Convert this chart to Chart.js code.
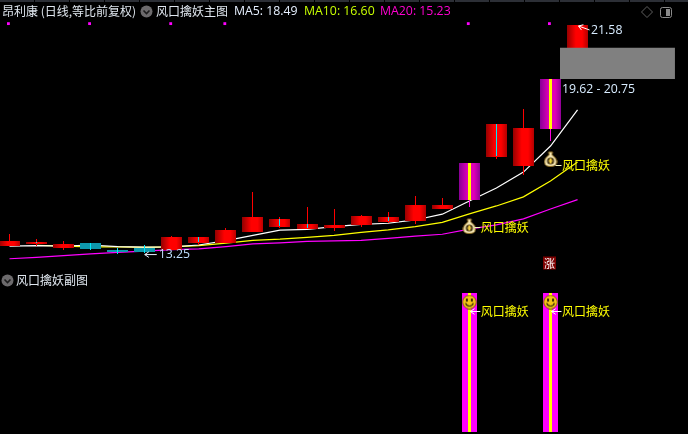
<!DOCTYPE html>
<html lang="zh">
<head>
<meta charset="utf-8">
<title>昂利康 日线</title>
<script src="https://cdn.jsdelivr.net/npm/chart.js"></script>
<style>
    html, body { margin: 0; padding: 0; background: #000; }
    #wrap { position: relative; width: 688px; height: 434px; overflow: hidden; background: #000; }
    #kline { position: absolute; left: 0; top: 0; }
    #topbar { position: absolute; left: 0; top: 0; width: 688px; height: 2px;
        background: repeating-linear-gradient(90deg, #2c2f36 0 34px, #000 34px 35px); }
    .t { position: absolute; white-space: nowrap; font: 12px/16px "Noto Sans CJK SC", "Noto Sans", sans-serif; color: #dfe6ee; }
    .m { font: 12.3px/16px "Open Sans", "Noto Sans", sans-serif; }
    .icon { position: absolute; }
</style>
</head>
<body>
<div id="wrap">
    <canvas id="kline" width="688" height="434"></canvas>
    <div id="topbar"></div>
    <span class="t" style="left:2px;top:3px">昂利康 (日线,等比前复权)</span>
    <svg class="icon" style="left:140px;top:5px" width="13" height="13"><circle cx="6.5" cy="6.5" r="6" fill="#6c6a6c"/><path d="M3.5 5.5 L6.5 8.5 L9.5 5.5" stroke="#1c1c1c" stroke-width="1.6" fill="none"/></svg>
    <span class="t" style="left:156px;top:3px">风口擒妖主图</span>
    <span class="t m" style="left:234px;top:3px;color:#e6f0ff">MA5: 18.49</span>
    <span class="t m" style="left:304px;top:3px;color:#c8ff00">MA10: 16.60</span>
    <span class="t m" style="left:380px;top:3px;color:#ff00d0">MA20: 15.23</span>
    <svg class="icon" style="left:640px;top:5px" width="36" height="16"><path d="M7 1.5 L12.5 7 L7 12.5 L1.5 7 Z" stroke="#5f5f5f" fill="none"/><rect x="20.5" y="2.5" width="11" height="10" rx="2" stroke="#8a8a8a" fill="none"/><rect x="26" y="4" width="4" height="7" fill="#8a8a8a"/></svg>
    <svg class="icon" style="left:1px;top:274px" width="13" height="13"><circle cx="6.5" cy="6.5" r="6" fill="#6c6a6c"/><path d="M3.5 5.5 L6.5 8.5 L9.5 5.5" stroke="#1c1c1c" stroke-width="1.6" fill="none"/></svg>
    <span class="t" style="left:16px;top:272px">风口擒妖副图</span>
</div>
<script>
// 日线数据
const categories = [0, 1, 2, 3, 4, 5, 6, 7, 8, 9, 10, 11, 12, 13, 14, 15, 16, 17, 18, 19, 20, 21];
const openPrices = [13.54, 13.62, 13.47, 13.65, 13.40, 13.47, 13.40, 13.65, 13.65, 14.05, 14.23, 14.16, 14.20, 14.31, 14.42, 14.45, 14.89, 15.22, 16.78, 16.45, 17.80, 20.71];
const closePrices = [13.73, 13.69, 13.62, 13.43, 13.33, 13.33, 13.87, 13.87, 14.13, 14.60, 14.53, 14.34, 14.31, 14.63, 14.60, 15.03, 15.03, 16.56, 17.98, 17.83, 19.62, 21.58];
const highPrices = [13.98, 13.80, 13.73, 13.65, 13.47, 13.58, 13.91, 13.87, 14.20, 15.51, 14.60, 14.96, 14.89, 14.67, 14.78, 15.36, 15.29, 16.56, 17.98, 18.53, 19.62, 21.58];
const lowPrices = [13.54, 13.54, 13.40, 13.40, 13.25, 13.29, 13.40, 13.58, 13.65, 14.05, 14.20, 14.16, 14.09, 14.23, 14.38, 14.34, 14.89, 14.96, 16.71, 16.13, 17.36, 20.71];
const ma5 = [13.54, 13.56, 13.54, 13.58, 13.52, 13.50, 13.51, 13.58, 13.74, 13.93, 14.12, 14.15, 14.25, 14.33, 14.37, 14.49, 14.70, 15.18, 15.65, 16.23, 17.18, 18.49];
const ma10 = [null, 13.57, 13.54, 13.51, 13.51, 13.49, 13.51, 13.56, 13.65, 13.75, 13.79, 13.86, 13.93, 14.04, 14.13, 14.25, 14.40, 14.71, 15.00, 15.33, 15.91, 16.60];
const ma20 = [13.08, 13.13, 13.19, 13.26, 13.31, 13.36, 13.41, 13.44, 13.52, 13.62, 13.66, 13.71, 13.73, 13.75, 13.82, 13.90, 13.97, 14.16, 14.31, 14.53, 14.89, 15.23];

// K线中间的青色细线 [下, 上]
const cyanIndex = [1, 3, 4, 5, 7, 10, 11, 14, 18];
const cyanLow = [13.65, 13.40, 13.25, 13.29, 13.69, 14.27, 14.20, 14.45, 16.82];
const cyanHigh = [13.69, 13.65, 13.47, 13.58, 13.87, 14.53, 14.34, 14.60, 17.98];

// 风口擒妖信号
const signalIndex = [17, 20];
const signalBagPrice = [14.27, 16.71];
const signalTextPrice = [14.23, 16.49];
const subBarValue = [1, 1];
const subSmileValue = [0.935, 0.935];
const subTextValue = [0.87, 0.87];
const dotIndex = [0, 3, 6, 8, 17, 20];
const dotPrice = 21.63;
const riseBadgePrice = 12.91;

// 缺口区间
const gapLow = 19.62;
const gapHigh = 20.75;
const gapStart = 20.35;
const gapEnd = 24.60;

const lowestIndex = 5;
const lowestPrice = 13.25;
const highestIndex = 21;
const highestPrice = 21.58;

const pts = (arr) => categories.map(i => ({ x: i, y: arr[i] }));

// 渐变实体
function bodyGradient(context, stops) {
    const chart = context.chart;
    if (!context.raw || !chart.scales.x) return stops[1];
    const cx = chart.scales.x.getPixelForValue(context.raw.x);
    if (!isFinite(cx)) return stops[1];
    const g = chart.ctx.createLinearGradient(cx - 10.5, 0, cx + 10.5, 0);
    g.addColorStop(0, stops[0]);
    g.addColorStop(0.42, stops[1]);
    g.addColorStop(0.72, stops[1]);
    g.addColorStop(1, stops[2]);
    return g;
}

function bodyColor(context) {
    if (!context.raw) return '#ff0000';
    const i = context.raw.x;
    if (signalIndex.includes(i)) return bodyGradient(context, ['#860096', '#e000b8', '#900098']);
    if (closePrices[i] < openPrices[i]) return '#0e98ac';
    return bodyGradient(context, ['#960000', '#ff0000', '#b40000']);
}

function wickColor(context) {
    if (!context.raw) return '#ff0000';
    return signalIndex.includes(context.raw.x) ? '#ff00e0' : '#ff0000';
}

// 图标：钱袋和笑脸
function makeBag() {
    const c = document.createElement('canvas');
    c.width = 14; c.height = 16;
    const g = c.getContext('2d');
    g.fillStyle = '#f6e7b4';
    g.strokeStyle = '#8a6a20';
    g.beginPath();
    g.moveTo(5, 1); g.lineTo(9, 1); g.lineTo(8.5, 4);
    g.quadraticCurveTo(14, 8, 13, 12);
    g.quadraticCurveTo(12.5, 15.5, 7, 15.5);
    g.quadraticCurveTo(1.5, 15.5, 1, 12);
    g.quadraticCurveTo(0, 8, 5.5, 4);
    g.closePath();
    g.fill(); g.stroke();
    g.fillStyle = '#4a3a18';
    g.beginPath(); g.arc(7, 10, 3.6, 0, Math.PI * 2); g.fill();
    g.fillStyle = '#f5d040';
    g.fillRect(6, 7.5, 2, 5);
    g.fillRect(5, 9.5, 4, 1);
    return c;
}

function makeSmile() {
    const c = document.createElement('canvas');
    c.width = 15; c.height = 15;
    const g = c.getContext('2d');
    g.fillStyle = '#f4c414';
    g.strokeStyle = '#7a5a10';
    g.beginPath(); g.arc(7.5, 7.5, 6.8, 0, Math.PI * 2); g.fill(); g.stroke();
    g.fillStyle = '#3a2a08';
    g.fillRect(4, 4, 2, 3);
    g.fillRect(9, 4, 2, 3);
    g.strokeStyle = '#3a2a08';
    g.lineWidth = 1.2;
    g.beginPath(); g.arc(7.5, 7.5, 4, 0.25, Math.PI - 0.25); g.stroke();
    return c;
}

function arrow(ctx, x1, y1, x2, y2, color) {
    const a = Math.atan2(y2 - y1, x2 - x1);
    ctx.strokeStyle = color;
    ctx.lineWidth = 1;
    ctx.beginPath();
    ctx.moveTo(x1, y1);
    ctx.lineTo(x2, y2);
    ctx.moveTo(x2 - 5 * Math.cos(a - 0.6), y2 - 5 * Math.sin(a - 0.6));
    ctx.lineTo(x2, y2);
    ctx.lineTo(x2 - 5 * Math.cos(a + 0.6), y2 - 5 * Math.sin(a + 0.6));
    ctx.stroke();
}

// 柱子对齐到整像素，线条更清晰
const snapBars = {
    id: 'snapBars',
    afterDatasetsUpdate(chart) {
        chart.getSortedVisibleDatasetMetas().forEach(meta => {
            if (meta.type !== 'bar') return;
            meta.data.forEach(el => {
                el.x = Math.floor(el.x) + 0.5;
                el.y = Math.round(el.y);
                el.base = Math.round(el.base);
            });
        });
    }
};

// 图上的文字标注
const notes = {
    id: 'notes',
    afterDatasetsDraw(chart) {
        const { ctx, scales } = chart;
        const px = scales.x, py = scales.y, sy = scales.y2;
        const priceFont = '12.3px "Open Sans", "Noto Sans", sans-serif';
        const cjkFont = '12px "Noto Sans CJK SC", sans-serif';
        ctx.save();
        ctx.textBaseline = 'middle';
        ctx.textAlign = 'left';

        // 最低价
        let x = px.getPixelForValue(lowestIndex), y = py.getPixelForValue(lowestPrice);
        arrow(ctx, x + 12, y + 0.5, x, y + 0.5, '#e8f0ff');
        ctx.font = priceFont;
        ctx.fillStyle = '#bfe0ff';
        ctx.fillText(lowestPrice.toFixed(2), x + 14, y);

        // 最高价
        x = px.getPixelForValue(highestIndex); y = py.getPixelForValue(highestPrice);
        arrow(ctx, x + 12, y + 5, x + 1, y + 1, '#ffffff');
        ctx.fillStyle = '#d8ecff';
        ctx.fillText(highestPrice.toFixed(2), x + 13.5, y + 5);

        // 缺口区间
        x = px.getPixelForValue(gapStart); y = py.getPixelForValue(gapLow);
        ctx.fillText(gapLow.toFixed(2) + ' - ' + gapHigh.toFixed(2), x + 2, y + 10.5);

        // 风口擒妖
        ctx.font = cjkFont;
        signalIndex.forEach((idx, k) => {
            const cx = px.getPixelForValue(idx);
            const ty = Math.round(py.getPixelForValue(signalTextPrice[k])) + 0.5;
            ctx.strokeStyle = '#f6f6c0';
            ctx.lineWidth = 1;
            ctx.beginPath();
            ctx.moveTo(cx + 5, ty);
            ctx.lineTo(cx + 11, ty);
            ctx.stroke();
            ctx.fillStyle = '#ffff00';
            ctx.fillText('风口擒妖', cx + 11.5, ty);
            const sty = Math.round(sy.getPixelForValue(subTextValue[k])) + 0.5;
            arrow(ctx, cx + 11, sty, cx + 1, sty, '#ffffff');
            ctx.fillStyle = '#ffff00';
            ctx.fillText('风口擒妖', cx + 11.5, sty);
        });

        // 涨
        x = px.getPixelForValue(signalIndex[1]); y = py.getPixelForValue(riseBadgePrice);
        ctx.fillStyle = '#7c0000';
        ctx.fillRect(Math.floor(x) - 7, Math.round(y) - 6.5, 13, 13);
        ctx.fillStyle = '#ffffff';
        ctx.textAlign = 'center';
        ctx.font = '11px "Noto Sans CJK SC", sans-serif';
        ctx.fillText('涨', Math.floor(x) - 0.5, y);
        ctx.restore();
    }
};

const bag = makeBag();
const smile = makeSmile();

new Chart(document.getElementById('kline'), {
    type: 'bar',
    plugins: [snapBars, notes],
    data: {
        datasets: [
            { type: 'line', data: pts(ma20), borderColor: '#ff00ff', borderWidth: 1.2, pointRadius: 0, tension: 0, order: 12 },
            { type: 'line', data: pts(ma10), borderColor: '#ffff00', borderWidth: 1.2, pointRadius: 0, tension: 0, order: 11 },
            { type: 'line', data: pts(ma5), borderColor: '#ffffff', borderWidth: 1.2, pointRadius: 0, tension: 0, order: 10 },
            // 影线
            { data: categories.map(i => ({ x: i, y: [lowPrices[i], highPrices[i]] })), barThickness: 1, grouped: false, backgroundColor: wickColor, order: 9 },
            // 实体
            { data: categories.map(i => ({ x: i, y: [openPrices[i], closePrices[i]] })), barThickness: 21, grouped: false, backgroundColor: bodyColor, order: 8 },
            // 青色细线
            { data: cyanIndex.map((idx, k) => ({ x: idx, y: [cyanLow[k], cyanHigh[k]] })), barThickness: 1, grouped: false, backgroundColor: '#00e8f8', order: 7 },
            // 信号K线黄线
            { data: signalIndex.map(idx => ({ x: idx, y: [openPrices[idx], closePrices[idx]] })), barThickness: 3, grouped: false, backgroundColor: '#ffff00', order: 6 },
            // 缺口
            { type: 'line', data: [{ x: gapStart, y: gapHigh }, { x: gapEnd, y: gapHigh }], fill: { value: gapLow }, backgroundColor: '#808080', borderWidth: 0, pointRadius: 0, order: 5 },
            // 顶部小方块
            { type: 'scatter', data: dotIndex.map(idx => ({ x: idx - 0.04, y: dotPrice })), pointStyle: 'rect', pointRadius: 2, borderWidth: 0, backgroundColor: '#ff00ff', order: 4 },
            // 副图
            { yAxisID: 'y2', data: signalIndex.map((idx, k) => ({ x: idx, y: subBarValue[k] })), barThickness: 15, grouped: false, backgroundColor: '#ff00ff', order: 3 },
            { yAxisID: 'y2', data: signalIndex.map((idx, k) => ({ x: idx, y: subBarValue[k] })), barThickness: 3, grouped: false, backgroundColor: '#ffff00', order: 2 },
            // 图标
            { type: 'scatter', data: signalIndex.map((idx, k) => ({ x: idx, y: signalBagPrice[k] })), pointStyle: bag, order: 1 },
            { type: 'scatter', yAxisID: 'y2', data: signalIndex.map((idx, k) => ({ x: idx, y: subSmileValue[k] })), pointStyle: smile, order: 0 }
        ]
    },
    options: {
        responsive: false,
        animation: false,
        devicePixelRatio: 1,
        layout: { padding: 0, autoPadding: false },
        elements: { bar: { borderWidth: 0, inflateAmount: 0 } },
        plugins: { legend: { display: false }, tooltip: { enabled: false }, title: { display: false } },
        scales: {
            x: { type: 'linear', display: false, offset: false, min: -0.351, max: 25.083 },
            y: { display: false, min: 6.707, max: 22.489 },
            y2: { display: false, min: -0.0144, max: 3.108 }
        }
    }
});
</script>
</body>
</html>
